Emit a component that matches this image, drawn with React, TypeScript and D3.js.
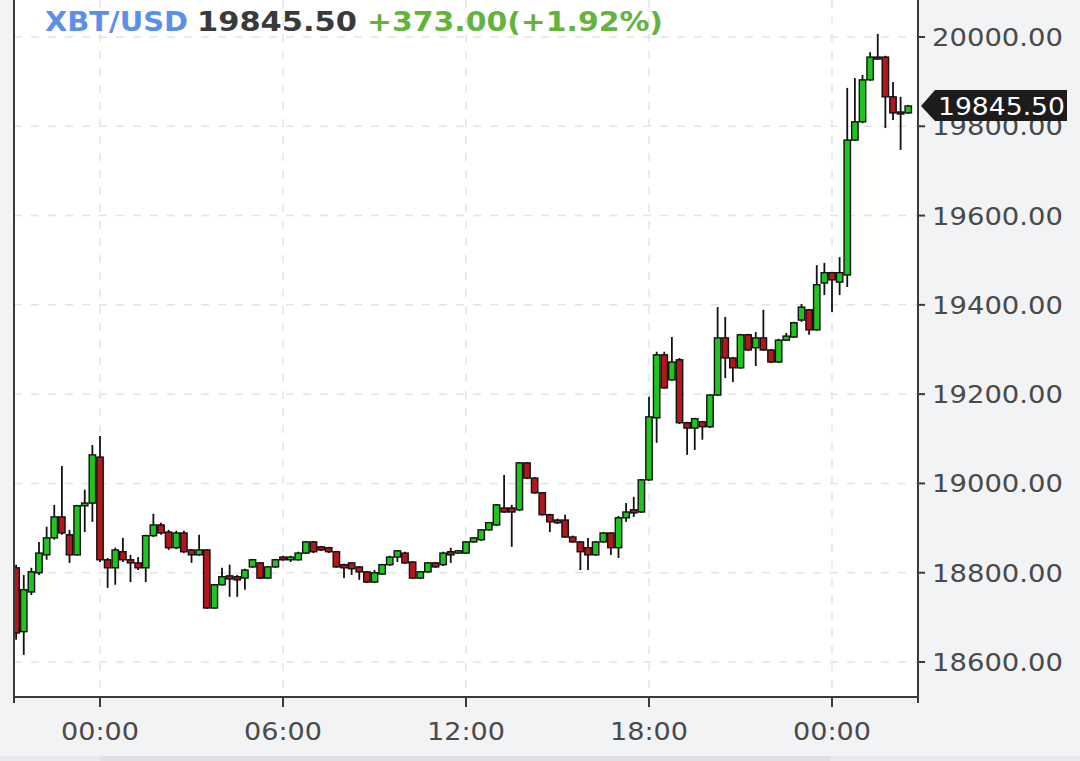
import React from 'react';
import * as d3 from 'd3';

// 15-minute candles, first one at 21:15 UTC
const FIRST_CANDLE = '2020-11-17T21:15:00Z';
const CANDLE_MINUTES = 15;
const AXIS_START = '2020-11-17T21:10:49Z';
const AXIS_END = '2020-11-19T02:49:11Z';

const OPEN = [
  18811, 18668, 18757, 18800, 18840, 18878, 18925, 18885, 18840, 18950,
  18956, 19059, 18829, 18811, 18847, 18829, 18822, 18811, 18883, 18907,
  18891, 18856, 18889, 18851, 18840, 18851, 18721, 18773, 18793, 18791,
  18788, 18813, 18822, 18788, 18813, 18835, 18829, 18829, 18844, 18869,
  18858, 18856, 18847, 18818, 18822, 18813, 18802, 18779, 18797, 18818,
  18835, 18844, 18824, 18788, 18802, 18822, 18818, 18847, 18844, 18844,
  18869, 18874, 18896, 18907, 18945, 18945, 18941, 19046, 19012, 18979,
  18930, 18918, 18918, 18880, 18869, 18856, 18840, 18869, 18889, 18856,
  18923, 18941, 18936, 19008, 19147, 19288, 19232, 19277, 19136, 19124,
  19138, 19127, 19198, 19326, 19281, 19259, 19333, 19304, 19326, 19299,
  19272, 19321, 19328, 19366, 19389, 19344, 19449, 19472, 19451, 19467,
  19769, 19810, 19904, 19955, 19955, 19866, 19832, 19830,
];
const HIGH = [
  18818, 18795, 18811, 18869, 18903, 18952, 19039, 18896, 18952, 18986,
  19086, 19106, 18833, 18856, 18878, 18840, 18835, 18885, 18932, 18912,
  18896, 18894, 18894, 18853, 18885, 18853, 18775, 18811, 18818, 18795,
  18809, 18831, 18824, 18815, 18831, 18838, 18838, 18847, 18871, 18871,
  18860, 18858, 18849, 18820, 18822, 18815, 18804, 18806, 18820, 18838,
  18851, 18847, 18826, 18804, 18824, 18824, 18847, 18856, 18851, 18871,
  18880, 18898, 18914, 18954, 19019, 18952, 19048, 19048, 19014, 18981,
  18932, 18921, 18930, 18883, 18871, 18878, 18871, 18891, 18891, 18927,
  18956, 18970, 19010, 19194, 19295, 19295, 19328, 19281, 19138, 19147,
  19140, 19200, 19395, 19373, 19283, 19335, 19335, 19339, 19389, 19301,
  19324, 19337, 19362, 19402, 19391, 19489, 19494, 19474, 19507, 19886,
  19908, 19915, 19966, 20007, 19958, 19899, 19866, 19848,
];
const LOW = [
  18650, 18616, 18750, 18795, 18829, 18874, 18885, 18822, 18838, 18891,
  18914, 18824, 18766, 18773, 18824, 18779, 18806, 18779, 18880, 18885,
  18851, 18853, 18844, 18822, 18838, 18719, 18719, 18771, 18746, 18746,
  18762, 18811, 18786, 18786, 18811, 18827, 18824, 18827, 18842, 18844,
  18849, 18844, 18811, 18788, 18795, 18784, 18777, 18777, 18795, 18815,
  18824, 18820, 18786, 18786, 18800, 18811, 18815, 18822, 18842, 18842,
  18867, 18871, 18894, 18905, 18934, 18858, 18938, 19010, 18977, 18928,
  18891, 18909, 18878, 18867, 18806, 18806, 18838, 18867, 18840, 18833,
  18914, 18925, 18934, 19006, 19091, 19212, 19230, 19133, 19064, 19075,
  19098, 19124, 19196, 19236, 19227, 19257, 19297, 19263, 19297, 19270,
  19270, 19319, 19326, 19362, 19333, 19342, 19422, 19384, 19422, 19440,
  19767, 19807, 19902, 19951, 19796, 19814, 19747, 19828,
];
const CLOSE = [
  18665, 18762, 18802, 18844, 18878, 18925, 18889, 18840, 18950, 18956,
  19064, 18829, 18811, 18851, 18829, 18822, 18811, 18883, 18907, 18889,
  18856, 18889, 18847, 18840, 18851, 18721, 18773, 18791, 18786, 18784,
  18806, 18829, 18788, 18813, 18829, 18829, 18835, 18844, 18869, 18847,
  18851, 18847, 18813, 18811, 18809, 18802, 18779, 18800, 18818, 18835,
  18849, 18822, 18788, 18802, 18822, 18813, 18844, 18840, 18849, 18869,
  18878, 18896, 18912, 18952, 18936, 18936, 19046, 19012, 18979, 18930,
  18914, 18912, 18880, 18869, 18847, 18840, 18869, 18889, 18856, 18923,
  18936, 18934, 19008, 19149, 19288, 19214, 19272, 19136, 19124, 19145,
  19127, 19198, 19326, 19281, 19259, 19333, 19299, 19326, 19299, 19272,
  19321, 19330, 19360, 19395, 19344, 19445, 19472, 19456, 19472, 19769,
  19810, 19904, 19955, 19953, 19866, 19830, 19830, 19845.5,
];

const Y_TICKS = [18600, 18800, 19000, 19200, 19400, 19600, 19800, 20000];
const SYMBOL = 'XBT/USD';
const LAST_PRICE = 19845.5;
const CHANGE = 373.0;
const CHANGE_PCT = 1.92;

const W = 1080;
const H = 761;
const PLOT = { left: 14, right: 918, top: 0, bottom: 697 };
const GREEN = '#1fc41f';
const RED = '#b3161b';

export default function App() {
  const x = d3
    .scaleUtc()
    .domain([new Date(AXIS_START), new Date(AXIS_END)])
    .range([PLOT.left, PLOT.right]);
  const y = d3.scaleLinear().domain([18600, 20000]).range([662, 37]);
  const t0 = new Date(FIRST_CANDLE).getTime();
  const candles = OPEN.map((o, i) => ({
    t: new Date(t0 + i * CANDLE_MINUTES * 60000),
    o,
    h: HIGH[i],
    l: LOW[i],
    c: CLOSE[i],
  }));
  const xTicks = x.ticks(d3.utcHour.every(6) as any);
  const fmtTime = d3.utcFormat('%H:%M');
  const fmtPrice = d3.format('.2f');
  const bodyW = 6.4;
  const lastY = y(LAST_PRICE);
  const font = 'DejaVu Sans';

  return (
    <svg
      width={W}
      height={H}
      style={{ position: 'absolute', left: 0, top: 0, background: '#f2f3f5' }}
    >
      <defs>
        <clipPath id="plotclip">
          <rect x={PLOT.left + 1} y={PLOT.top} width={PLOT.right - PLOT.left - 2} height={PLOT.bottom - PLOT.top} />
        </clipPath>
      </defs>
      <rect x={PLOT.left} y={PLOT.top} width={PLOT.right - PLOT.left} height={PLOT.bottom - PLOT.top} fill="#ffffff" />
      {/* grid */}
      {Y_TICKS.map((v) => (
        <line key={'gy' + v} x1={PLOT.left} x2={PLOT.right} y1={y(v)} y2={y(v)} stroke="#e4e4e4" strokeWidth={1.5} strokeDasharray="8,9" />
      ))}
      {xTicks.map((t) => (
        <line key={'gx' + t.getTime()} x1={x(t)} x2={x(t)} y1={PLOT.top} y2={PLOT.bottom} stroke="#e4e4e4" strokeWidth={1.5} strokeDasharray="8,9" />
      ))}
      {/* candles */}
      <g clipPath="url(#plotclip)">
        {candles.map((d, i) => {
          const cx = x(d.t);
          const up = d.c >= d.o;
          const top = y(Math.max(d.o, d.c));
          const bot = y(Math.min(d.o, d.c));
          return (
            <g key={i}>
              <line x1={cx} x2={cx} y1={y(d.h)} y2={y(d.l)} stroke="#111" strokeWidth={1.8} />
              <rect
                x={cx - bodyW / 2}
                y={top}
                width={bodyW}
                height={Math.max(2, bot - top)}
                fill={up ? GREEN : RED}
                stroke="#111"
                strokeWidth={1.4}
              />
            </g>
          );
        })}
      </g>
      {/* axes */}
      <line x1={PLOT.left} x2={PLOT.left} y1={PLOT.top} y2={PLOT.bottom} stroke="#3a3a3a" strokeWidth={2} />
      <line x1={PLOT.right} x2={PLOT.right} y1={PLOT.top} y2={PLOT.bottom} stroke="#3a3a3a" strokeWidth={2} />
      <line x1={PLOT.left} x2={PLOT.right} y1={PLOT.bottom} y2={PLOT.bottom} stroke="#3a3a3a" strokeWidth={2} />
      <line x1={PLOT.left} x2={PLOT.left} y1={PLOT.bottom} y2={PLOT.bottom + 6} stroke="#3a3a3a" strokeWidth={2} />
      <line x1={PLOT.right} x2={PLOT.right} y1={PLOT.bottom} y2={PLOT.bottom + 6} stroke="#3a3a3a" strokeWidth={2} />
      {xTicks.map((t) => (
        <g key={'xt' + t.getTime()}>
          <line x1={x(t)} x2={x(t)} y1={PLOT.bottom} y2={PLOT.bottom + 10} stroke="#3a3a3a" strokeWidth={2} />
          <text
            x={x(t) - 39}
            y={740}
            fontFamily={font}
            fontSize={25}
            fill="#4a4a4a"
            textLength={78}
            lengthAdjust="spacingAndGlyphs"
          >
            {fmtTime(t)}
          </text>
        </g>
      ))}
      {Y_TICKS.map((v) => (
        <g key={'yt' + v}>
          <line x1={PLOT.right} x2={PLOT.right + 7} y1={y(v)} y2={y(v)} stroke="#3a3a3a" strokeWidth={2} />
          <text
            x={932}
            y={y(v) + 9}
            fontFamily={font}
            fontSize={25}
            fill="#4a4a4a"
            textLength={131}
            lengthAdjust="spacingAndGlyphs"
          >
            {fmtPrice(v)}
          </text>
        </g>
      ))}
      {/* last price tag */}
      <path
        d={`M${PLOT.right + 3},${lastY} L${935},${lastY - 16} L${1067},${lastY - 16} L${1067},${lastY + 15} L${935},${lastY + 15} Z`}
        fill="#1c1c1c"
      />
      <text
        x={938}
        y={lastY + 9}
        fontFamily={font}
        fontSize={25}
        fill="#ffffff"
        textLength={127}
        lengthAdjust="spacingAndGlyphs"
      >
        {fmtPrice(LAST_PRICE)}
      </text>
      {/* header */}
      <text x={45} y={31} fontFamily={font} fontWeight="bold" fontSize={27} fill="#5b8fe8" textLength={143} lengthAdjust="spacingAndGlyphs">
        {SYMBOL}
      </text>
      <text x={197} y={31} fontFamily={font} fontWeight="bold" fontSize={27} fill="#3a3a3a" textLength={160} lengthAdjust="spacingAndGlyphs">
        {fmtPrice(LAST_PRICE)}
      </text>
      <text x={367} y={31} fontFamily={font} fontWeight="bold" fontSize={27} fill="#62b43c" textLength={296} lengthAdjust="spacingAndGlyphs">
        {`+${fmtPrice(CHANGE)}(+${CHANGE_PCT.toFixed(2)}%)`}
      </text>
      {/* bottom strip */}
      <rect x={0} y={756} width={W} height={5} fill="#e9eaed" />
      <rect x={100} y={756} width={730} height={5} fill="#dfe0e3" />
    </svg>
  );
}
